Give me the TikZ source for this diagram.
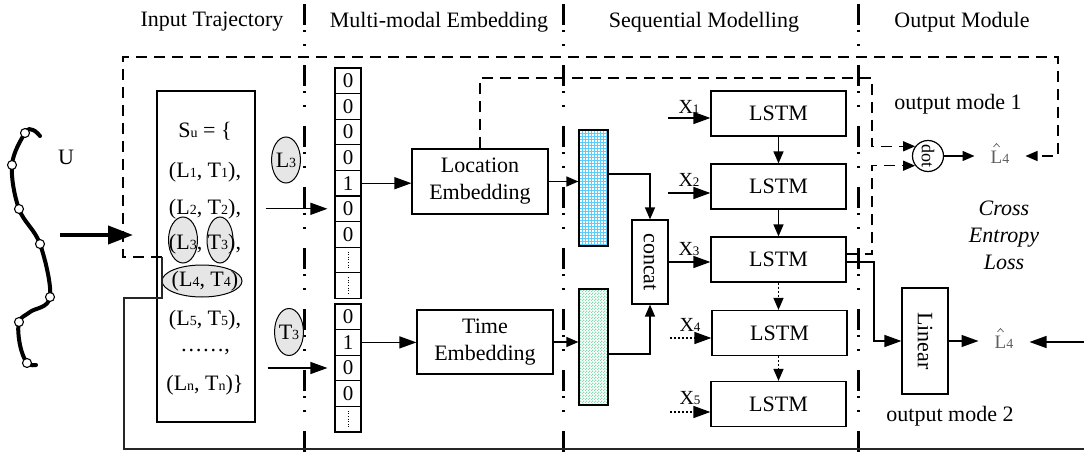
\documentclass[tikz,border=0pt]{standalone}
\usepackage{fontspec}
\setmainfont{Liberation Serif}
\usetikzlibrary{arrows.meta,calc,patterns,shapes.geometric}

% small digits/letters used as indices
\newcommand\subd[1]{{\fontsize{14}{14}\selectfont #1}}
\newcommand\subx[1]{{\fontsize{13}{13}\selectfont #1}}

% fine fills for the two embedding vectors
\pgfdeclarepatternformonly{finegrid}{\pgfqpoint{-0.5pt}{-0.5pt}}{\pgfqpoint{3.5pt}{3.5pt}}{\pgfqpoint{3pt}{3pt}}{%
  \pgfsetlinewidth{0.6pt}%
  \pgfpathmoveto{\pgfqpoint{-0.5pt}{0pt}}\pgfpathlineto{\pgfqpoint{3.5pt}{0pt}}%
  \pgfpathmoveto{\pgfqpoint{0pt}{-0.5pt}}\pgfpathlineto{\pgfqpoint{0pt}{3.5pt}}%
  \pgfusepath{stroke}}
\pgfdeclarepatternformonly{finechecker}{\pgfpointorigin}{\pgfqpoint{3pt}{3pt}}{\pgfqpoint{3pt}{3pt}}{%
  \pgfpathrectangle{\pgfpointorigin}{\pgfqpoint{1.5pt}{1.5pt}}%
  \pgfpathrectangle{\pgfqpoint{1.5pt}{1.5pt}}{\pgfqpoint{1.5pt}{1.5pt}}%
  \pgfusepath{fill}}

\definecolor{gridblue}{RGB}{90,205,250}
\definecolor{mint}{RGB}{130,220,175}
\definecolor{ovalgray}{RGB}{230,230,230}
\definecolor{hatgray}{RGB}{95,95,95}

\begin{document}
\begin{tikzpicture}[x=1pt,y=-1pt,
  every node/.style={font=\fontsize{22}{27}\selectfont},
  box/.style={draw, line width=1.2pt, inner sep=0pt, align=center},
  cell/.style={draw, line width=1.1pt, minimum width=26pt, minimum height=25.6pt,
               inner sep=0pt, font=\fontsize{21}{21}\selectfont},
  oval/.style={ellipse, draw, line width=1pt, fill=ovalgray, inner sep=0pt},
  stop/.style={circle, draw, line width=1.1pt, fill=white, minimum size=9pt, inner sep=0pt},
  bar/.style={draw, line width=1.2pt, minimum width=29pt, minimum height=116pt, inner sep=0pt},
  lstm/.style={box, minimum width=135pt, minimum height=45pt},
  xin/.style={font=\fontsize{20}{20}\selectfont},
  yhat/.style={text=hatgray, font=\fontsize{19}{19}\selectfont, inner xsep=16pt, inner ysep=2pt},
  hatmark/.style={draw=hatgray, line width=0.7pt},
  arr/.style={line width=1.3pt, -{Triangle[length=17pt,width=12pt]}},
  arrs/.style={line width=1.3pt, -{Triangle[length=12pt,width=10pt]}},
  dotln/.style={dash pattern=on 2pt off 2pt},
  dashln/.style={line width=1.3pt, dash pattern=on 11pt off 7pt},
  loopln/.style={line width=1.4pt, black!85},
  divider/.style={line width=3pt, dash pattern=on 21pt off 5pt on 2pt off 12pt on 2pt off 19pt},
]
\useasboundingbox (0,0) rectangle (1084,457);

% column separators
\draw[divider] (304,4) -- (304,457);
\draw[divider] (563,4) -- (563,457);
\draw[divider] (858,4) -- (858,457);

% column titles
\node (h-in)  at (212,22) {Input Trajectory};
\node (h-emb) at (439,22) {Multi-modal Embedding};
\node (h-seq) at (704,22) {Sequential Modelling};
\node (h-out) at (962,22) {Output Module};

% user trajectory
\draw[line width=4pt, line cap=round] plot[smooth, tension=0.6] coordinates
  {(40,136) (33,130) (25,133) (12,165) (19,209) (40,244) (50,297) (30,312)
   (19,322) (20,345) (27,363) (36,365)};
\foreach \p [count=\i] in {(25,133),(12,165),(19,209),(40,244),(50,297),(19,322),(27,363)}
  \node[stop] (p\i) at \p {};
\node (user) at (66,157) {U};

\coordinate (tin) at (60,235);
\coordinate (tout) at (133,235);
\draw[line width=4pt, -{Triangle[length=25pt,width=18pt]}] (tin) -- (tout);

% check-in sequence
\node[box, minimum width=98pt, minimum height=331pt] (su) at (206,256.5) {};
\node[oval, minimum width=29pt, minimum height=46pt] (o3l) at (183,240) {};
\node[oval, minimum width=26pt, minimum height=46pt] (o3t) at (220,240) {};
\node[oval, minimum width=80pt, minimum height=32pt] (o4) at (202,281) {};
\node (s0) at (205,131) {S\subd{u} = \{};
\node (s1) at (205,172) {(L\subd{1}, T\subd{1}),};
\node (s2) at (205,209) {(L\subd{2}, T\subd{2}),};
\node (s3) at (205,244) {(L\subd{3}, T\subd{3}),};
\node (s4) at (205,281) {(L\subd{4}, T\subd{4})};
\node (s5) at (205,320) {(L\subd{5}, T\subd{5}),};
\node (s6) at (205,352) {……,};
\node (s7) at (205,385) {(L\subd{n}, T\subd{n})\}};

% one-hot inputs
\node[oval, minimum width=26pt, minimum height=46pt] (l3) at (286,160) {L\subd{3}};
\node[oval, minimum width=27pt, minimum height=47pt] (t3) at (289,332) {T\subd{3}};

\foreach \v [count=\i] in {0,0,0,0,1,0,0,{},{}}
  \node[cell] (lv\i) at (348,{80.8+25.6*(\i-1)}) {\v};
\foreach \v [count=\i] in {0,1,0,0,{}}
  \node[cell] (tv\i) at (348,{316.8+25.6*(\i-1)}) {\v};
\foreach \c in {lv8,lv9,tv5}
  \draw[line width=1pt, dash pattern=on 1pt off 1.6pt]
    ($(\c.north)+(0,5)$) -- ($(\c.south)+(0,-5)$);

\draw[arr] ($(su.east |- lv6)+(10,0)$) -- ($(lv6.west)+(-7,0)$);
\draw[arr] ($(su.east |- tv3)+(12,0)$) -- ($(tv3.west)+(-7,0)$);

% embeddings
\node[box, minimum width=136pt, minimum height=65pt] (loc) at (480,181.5) {Location\\Embedding};
\node[box, minimum width=136pt, minimum height=64pt] (tim) at (485,342) {Time\\Embedding};
\draw[arr] (lv5.east) -- (lv5.east -| loc.west);
\draw[arr] (tv2.east) -- (tv2.east -| tim.west);

\node[bar, pattern=finegrid, pattern color=gridblue] (blue) at (593.5,188) {};
\node[bar, pattern=finechecker, pattern color=mint] (green) at (593.5,347) {};
\draw[arrs] (loc.east) -- (loc.east -| blue.west);
\draw[arrs] (tim.east) -- (tim.east -| green.west);

\node[box, minimum width=36pt, minimum height=84pt] (cc) at (650,262) {\rotatebox{-90}{concat}};
\draw[arrs] ($(blue.east)+(0,-14)$) -| (cc.north);
\draw[arrs] ($(green.east)+(0,7)$) -| (cc.south);

% recurrent stack
\node[lstm] (m1) at (778.5,113.5) {LSTM};
\node[lstm] (m2) at (778.5,186.5) {LSTM};
\node[lstm] (m3) at (778.5,259.5) {LSTM};
\node[lstm] (m4) at (779.5,333) {LSTM};
\node[lstm] (m5) at (778.5,404) {LSTM};

\draw[arrs] (m1.south) -- (m2.north);
\draw[arrs] (m2.south) -- (m3.north);
\draw[arrs, dotln] (m3.south) -- (m3.south |- m4.north);
\draw[arrs, dotln] (m3.south |- m4.south) -- (m3.south |- m5.north);

\coordinate (x1) at (668,118);
\coordinate (x2) at (668,193);
\coordinate (x4) at (670,338);
\coordinate (x5) at (670,412);
\draw[arr] (x1) -- (x1 -| m1.west);
\draw[arr] (x2) -- (x2 -| m2.west);
\draw[arr] (cc.east) -- (cc.east -| m3.west);
\draw[arr, dotln] (x4) -- (x4 -| m4.west);
\draw[arr, dotln] (x5) -- (x5 -| m5.west);
\node[xin] (x1l) at (689,107) {X\subx{1}};
\node[xin] (x2l) at (689,180) {X\subx{2}};
\node[xin] (x3l) at (689,249) {X\subx{3}};
\node[xin] (x4l) at (690,325) {X\subx{4}};
\node[xin] (x5l) at (690,398) {X\subx{5}};

% output mode 1
\node[circle, draw, line width=1.2pt, minimum size=31pt, inner sep=0pt,
      font=\fontsize{18}{18}\selectfont] (dot) at (928,156) {\rotatebox{-90}{dot}};
\node[yhat] (y1) at (1000,157) {L\subd{4}};
\draw[hatmark] ($(y1.center)+(-6.5,-10)$) -- ($(y1.center)+(-3.5,-13.5)$) -- ($(y1.center)+(-0.5,-10)$);
\draw[arrs] (dot.east) -- (dot.east -| y1.west);

\coordinate (ctop) at (872,78);
\coordinate (dv) at (872,0);
\draw[dashln, -{Triangle[length=12pt,width=10pt]}] (loc.north) |- (ctop) |- (dot.143);
\draw[dashln, -{Triangle[length=12pt,width=10pt]}] ($(m3.east)+(0,-5.5)$) -| (dv |- dot.217) -- (dot.217);

\node (mode1) at (958,104) {output mode 1};

% output mode 2
\node[box, minimum width=46pt, minimum height=106pt] (lin) at (925,341) {\rotatebox{-90}{Linear}};
\node[yhat] (y2) at (1004,342) {L\subd{4}};
\draw[hatmark] ($(y2.center)+(-6.5,-10)$) -- ($(y2.center)+(-3.5,-13.5)$) -- ($(y2.center)+(-0.5,-10)$);
\coordinate (sv) at (874,0);
\draw[arr] ($(m3.east)+(0,2.5)$) -| (sv |- lin.west) -- (lin.west);
\draw[arr] (lin.east) -- (lin.east -| y2.west);
\node (mode2) at (950,416) {output mode 2};

\node[font=\fontsize{22}{27}\selectfont\itshape, align=center] (ce) at (1004,235) {Cross\\Entropy\\Loss};

% ground-truth feedback loops
\coordinate (lp) at (162,257);
\coordinate (dl) at (123,257);
\coordinate (tr) at (1058,57);
\coordinate (r1) at (1058,156);
\draw[dashln, -{Triangle[length=12pt,width=10pt]}] (lp) -- (dl) |- (tr) -- (r1) -- (r1 -| y1.east);

\coordinate (s1c) at (162,298);
\coordinate (s2c) at (124,449);
\coordinate (s3c) at (1084,449);
\coordinate (rin) at (1084,342);
\draw[loopln] (lp) -- (s1c) -| (s2c) -- (s3c);
\draw[arr] (rin) -- (rin -| y2.east);
\end{tikzpicture}
\end{document}
